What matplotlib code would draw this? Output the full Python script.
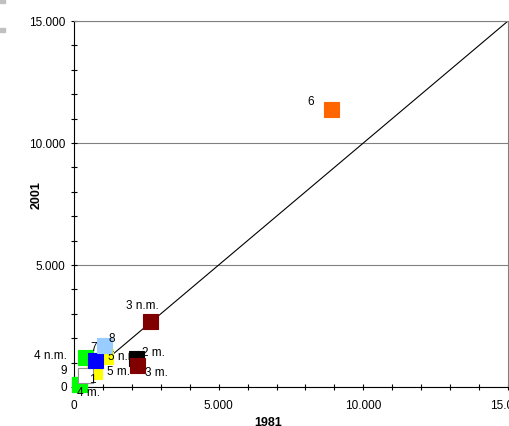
import numpy as np
import matplotlib.pyplot as plt
from matplotlib.ticker import MultipleLocator, FuncFormatter

plt.rcParams['font.family'] = ['Liberation Sans', 'DejaVu Sans']

# Data: value in 1981 (x) and 2001 (y), drawing order = back to front
labels = ['9', '0', '4 m.', '5 m.', '1', '4 n.m.', '5 n.m.', '7', '8', '2 m.', '3 m.', '3 n.m.', '6']
x1981 = [379, 170, 172, 690, 379, 379, 1069, 741, 1052, 2138, 2172, 2621, 8879]
y2001 = [492, 140, 143, 656, 492, 1230, 1270, 1127, 1721, 1209, 902, 2705, 11373]
colors = ['#FFFFFF', '#00FF00', '#00FF00', '#FFFF00', '#FFFFFF', '#00FF00', '#FFFF00',
          '#0000FF', '#99CCFF', '#000000', '#800000', '#800000', '#FF6600']
# label offsets in pixels (dx, dy) and alignment
label_dx = [-18, -12, 10, 13, 7.5, -18, 3, -1.5, 7.5, 6, 8, -7.5, -20.5]
label_dy = [5, -3.5, -8.5, 0, -4, 2, 0, 12.5, 7, 5.5, -7, 16, 8.5]
label_ha = ['right', 'right', 'center', 'left', 'center', 'right', 'left', 'center',
            'center', 'left', 'left', 'center', 'center']

fig = plt.figure(figsize=(5.09, 4.27), dpi=100)
ax = fig.add_axes([74 / 509, 39 / 427, 434 / 509, 366 / 427])

ax.set_xlim(0, 15000)
ax.set_ylim(0, 15000)

# diagonal reference line
ax.plot([0, 15000], [0, 15000], color='black', lw=0.8, zorder=2)

for i in range(len(labels)):
    z = 3 + i * 0.01
    edge = '#909090' if colors[i] == '#FFFFFF' else colors[i]
    ax.plot(x1981[i], y2001[i], marker='s', markersize=10.8, color=colors[i],
            markeredgecolor=edge, markeredgewidth=0.8, linestyle='none', zorder=z,
            clip_on=False)
    ax.annotate(labels[i], (x1981[i], y2001[i]), xytext=(label_dx[i], label_dy[i]),
                textcoords='offset pixels', ha=label_ha[i], va='center',
                fontsize=8.5, zorder=z + 0.005, annotation_clip=False)

ax.yaxis.grid(True, color='#808080', lw=0.8)
ax.set_axisbelow(True)

ax.xaxis.set_major_locator(MultipleLocator(5000))
ax.xaxis.set_minor_locator(MultipleLocator(1000))
ax.yaxis.set_major_locator(MultipleLocator(5000))
ax.yaxis.set_minor_locator(MultipleLocator(1000))
ax.xaxis.set_major_formatter(FuncFormatter(
    lambda v, p: '0' if v == 0 else f'{v:,.0f}'.replace(',', '.')))
# the "0" at the y origin is the data label of point 0
ax.yaxis.set_major_formatter(FuncFormatter(
    lambda v, p: '' if v == 0 else f'{v:,.0f}'.replace(',', '.')))
ax.tick_params(which='both', direction='inout', length=5, width=0.8, labelsize=8.5,
               top=False, right=False)
ax.tick_params(axis='y', pad=4)
ax.tick_params(axis='x', pad=6.5)

for s in ['top', 'right']:
    ax.spines[s].set_color('#808080')
for s in ['left', 'bottom']:
    ax.spines[s].set_color('black')

ax.set_xlabel('1981', fontsize=9, fontweight='bold')
ax.xaxis.set_label_coords(0.447, -0.078)
ax.set_ylabel('2001', fontsize=9, fontweight='bold')
ax.yaxis.set_label_coords(-0.072, 0.527)

# small grey marks at the left edge
for top in [0, 29]:
    fig.patches.append(plt.Rectangle((0, 1 - (top + 4) / 427), 5 / 509, 4 / 427,
                                     color='#C0C0C0', transform=fig.transFigure,
                                     figure=fig))

fig.savefig('out.png', dpi=100)
